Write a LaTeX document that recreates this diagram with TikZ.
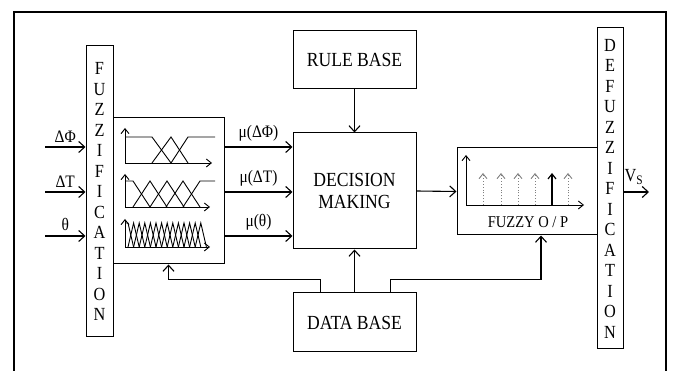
\documentclass[tikz,border=0pt]{standalone}
\usepackage{fontspec}
\setmainfont[FakeStretch=0.88]{Liberation Serif}
\usetikzlibrary{arrows.meta,positioning,calc}

\tikzset{
  blockbox/.style={draw, line width=1pt, inner sep=0pt, align=center, font=\fontsize{20}{22}\selectfont},
  letterbox/.style={draw, line width=1pt, inner sep=0pt, align=center, font=\fontsize{18.5}{20.5}\selectfont},
  sig/.style={line width=1.1pt, -{Straight Barb[length=6pt,width=11pt]}},
  axis/.style={line width=0.9pt, -{Straight Barb[length=5pt,width=8pt]}},
  mfline/.style={line width=0.9pt},
  lab/.style={font=\fontsize{17.5}{19}\selectfont},
}

\begin{document}
\begin{tikzpicture}[x=1pt,y=-1pt]
\useasboundingbox (0,0) rectangle (673,371);
\draw[line width=2pt] (14,380) -- (14,12) -- (666,12) -- (666,380);

% blocks
\node[letterbox, minimum width=27pt, minimum height=291pt] (fuzz) at (99.5,191.5) {F\\U\\Z\\Z\\I\\F\\I\\C\\A\\T\\I\\O\\N};
\node[blockbox, minimum width=111pt, minimum height=146pt] (mf) at (168.5,191) {};
\node[blockbox, minimum width=123pt, minimum height=58pt] (rule) at (354.5,60) {RULE BASE};
\node[blockbox, minimum width=123pt, minimum height=116pt] (dec) at (354.5,191) {DECISION\\MAKING};
\node[blockbox, minimum width=123pt, minimum height=59pt] (data) at (354.5,322.5) {DATA BASE};
\node[blockbox, minimum width=140pt, minimum height=87pt] (fuzzy) at (527,191.5) {};
\node[letterbox, minimum width=26pt, minimum height=321pt] (defuzz) at (610,188.5) {D\\E\\F\\U\\Z\\Z\\I\\F\\I\\C\\A\\T\\I\\O\\N};
\node[font=\fontsize{16.5}{18}\selectfont] (fop) at (528,222) {FUZZY O / P};

% inputs and memberships
\foreach \y/\inlab/\outlab [count=\i] in {147/ΔΦ/μ(ΔΦ), 192/ΔT/μ(ΔT), 236/θ/μ(θ)} {
  \coordinate (in\i) at (45,\y);
  \draw[sig] (in\i) -- (in\i -| fuzz.west) node[lab, midway, above=1pt] {\inlab};
  \draw[sig] (in\i -| mf.east) -- (in\i -| dec.west) node[lab, midway, above=2pt] {\outlab};
}

% membership functions
\draw[axis] (125,163) -- (125,128);
\draw[axis] (125,163) -- (212,163);
\draw[mfline] (125,137) -- (152,137) -- (171,163);
\draw[mfline] (152,163) -- (171,137) -- (188,163);
\draw[mfline] (171,163) -- (188,137) -- (215,137);

\draw[axis] (125,207) -- (125,174);
\draw[axis] (125,207) -- (210,207);
\draw[mfline] (125,181) -- (133,181) -- (150,207);
\foreach \p in {150,167,183}
  \draw[mfline] (\p-17,207) -- (\p,181) -- (\p+17,207);
\draw[mfline] (183,207) -- (200,181) -- (215,181);

\draw[axis] (125,247) -- (125,219);
\draw[axis] (125,247) -- (210,247);
\draw[mfline] (125,223) -- (128,223) -- (133.6,247);
\foreach \p in {133.6,139.2,...,201}
  \draw[mfline] (\p-5.6,247) -- (\p,223) -- (\p+5.6,247);

% fuzzy output
\coordinate (fo) at (466,205);
\draw[axis] (fo) -- (466,155);
\draw[axis] (fo) -- (584,205);
\foreach \x in {483,501,518,535,568}
  \draw[gray, dotted, line width=0.9pt, -{Straight Barb[length=5pt,width=8pt]}] (\x,205) -- (\x,173);
\draw[axis, line width=1.2pt] (552,205) -- (552,173);

% connections
\draw[sig] (rule.south) -- (dec.north);
\draw[sig] (data.north) -- (dec.south);
\draw[sig] (dec.east) -- (fuzzy.west);
\draw[sig] ([xshift=28pt]data.north west) -- ++(0,-13) -| (mf.south);
\draw[sig] ([xshift=-26pt]data.north east) -- ++(0,-13) -| ([xshift=14pt]fuzzy.south);

\coordinate (vs) at (649,192);
\draw[sig] (defuzz.east |- vs) -- (vs);
\node[font=\fontsize{18.5}{20}\selectfont] (vslab) at (634,177) {V\textsubscript{S}};
\end{tikzpicture}
\end{document}
